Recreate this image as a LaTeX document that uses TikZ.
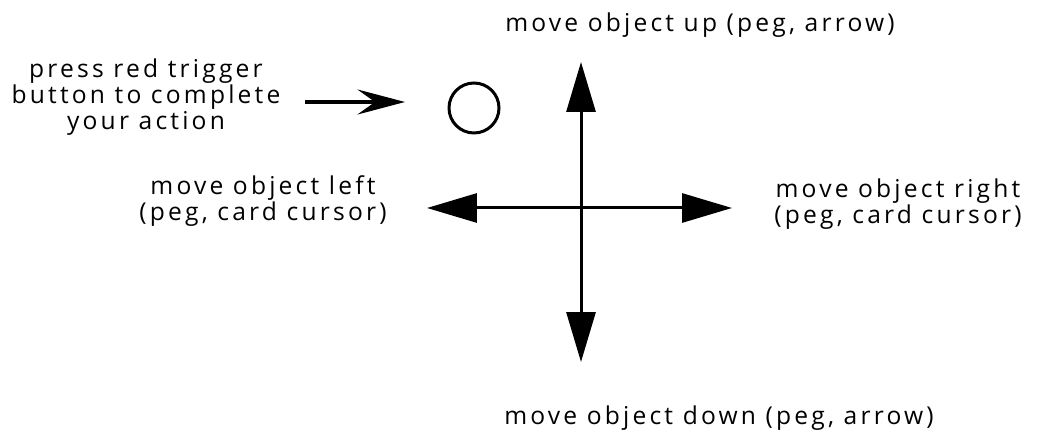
\documentclass[tikz,border=0pt]{standalone}
\usepackage{fontspec}
\setmainfont{Open Sans}[LetterSpace=13]
\usetikzlibrary{arrows.meta}
\begin{document}
\begin{tikzpicture}[x=0.02cm,y=-0.02cm,
  lbl/.style={align=center,font=\fontsize{14}{13.6}\selectfont,inner sep=0pt},
  bigarrow/.style={line width=0.06cm,-{Triangle[length=1.0cm,width=0.58cm]}},
  smallarrow/.style={line width=0.08cm,-{Stealth[length=0.95cm,width=0.5cm,inset=0.35cm]}}]
\useasboundingbox (0,0) rectangle (1040,438);
\coordinate (C) at (581,208);
\coordinate (U) at (581,62);
\coordinate (D) at (581,362);
\coordinate (L) at (427,208);
\coordinate (R) at (732,208);
\draw[bigarrow] (C) -- (U);
\draw[bigarrow] (C) -- (D);
\draw[bigarrow] (C) -- (L);
\draw[bigarrow] (C) -- (R);
\node[draw,circle,line width=0.06cm,minimum size=1.0cm,inner sep=0pt] (btn) at (474,108) {};
\node[lbl] (press) at (146,97) {press red trigger\\button to complete\\your action};
\coordinate (pa) at (305,102);
\coordinate (pb) at (405,102);
\draw[smallarrow] (pa) -- (pb);
\node[lbl] (up) at (700,25) {move object up (peg, arrow)};
\node[lbl] (down) at (719,418) {move object down (peg, arrow)};
\node[lbl] (left) at (263,201) {move object left\\(peg, card cursor)};
\node[lbl] (right) at (898,204) {move object right\\(peg, card cursor)};
\end{tikzpicture}
\end{document}
